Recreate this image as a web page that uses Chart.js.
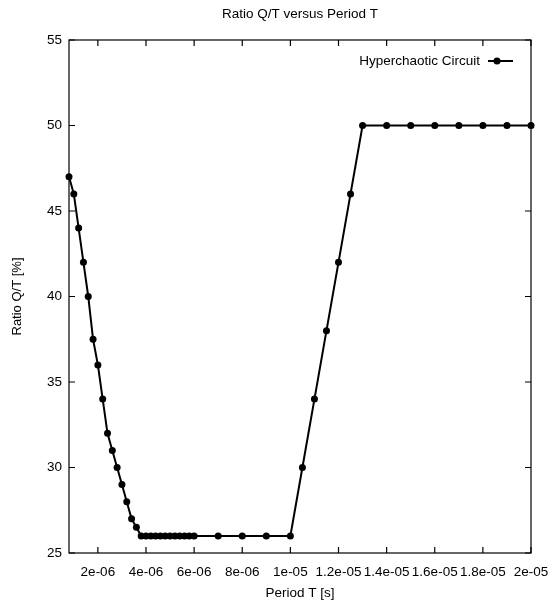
<!DOCTYPE html>
<html>
<head>
<meta charset="utf-8">
<script src="https://cdn.jsdelivr.net/npm/chart.js@4.4.1/dist/chart.umd.min.js"></script>
<style>
html,body{margin:0;padding:0;background:#fff;}
#wrap{width:548px;height:603px;position:relative;}
</style>
</head>
<body>
<div id="wrap"><canvas id="c" width="548" height="603"></canvas></div>
<script>
// Period T [s]
const periods = [
  8e-7, 1.0e-6, 1.2e-6, 1.4e-6, 1.6e-6, 1.8e-6, 2.0e-6, 2.2e-6, 2.4e-6, 2.6e-6,
  2.8e-6, 3.0e-6, 3.2e-6, 3.4e-6, 3.6e-6,
  3.8e-6, 4.0e-6, 4.2e-6, 4.4e-6, 4.6e-6, 4.8e-6, 5.0e-6, 5.2e-6, 5.4e-6, 5.6e-6, 5.8e-6, 6.0e-6,
  7e-6, 8e-6, 9e-6, 1.0e-5,
  1.05e-5, 1.1e-5, 1.15e-5, 1.2e-5, 1.25e-5,
  1.3e-5, 1.4e-5, 1.5e-5, 1.6e-5, 1.7e-5, 1.8e-5, 1.9e-5, 2.0e-5
];
// Ratio Q/T [%]
const ratios = [
  47, 46, 44, 42, 40, 37.5, 36, 34, 32, 31,
  30, 29, 28, 27, 26.5,
  26, 26, 26, 26, 26, 26, 26, 26, 26, 26, 26, 26,
  26, 26, 26, 26,
  30, 34, 38, 42, 46,
  50, 50, 50, 50, 50, 50, 50, 50
];
const seriesLabel = 'Hyperchaotic Circuit';
const chartTitle = 'Ratio Q/T versus Period T';
const xTickValues = [2e-6, 4e-6, 6e-6, 8e-6, 1e-5, 1.2e-5, 1.4e-5, 1.6e-5, 1.8e-5, 2e-5];
const xTickLabels = ['2e-06', '4e-06', '6e-06', '8e-06', '1e-05', '1.2e-05', '1.4e-05', '1.6e-05', '1.8e-05', '2e-05'];
const yTickValues = [25, 30, 35, 40, 45, 50, 55];
const yTickLabels = ['25', '30', '35', '40', '45', '50', '55'];

const FONT = "'Liberation Sans', Arial, Helvetica, sans-serif";
const FS = 13.5;

const boxPlugin = {
  id: 'boxPlugin',
  afterDatasetsDraw(chart) {
    const {ctx, chartArea: a, scales} = chart;
    ctx.save();
    // title centred over the plot area
    ctx.font = FS + 'px ' + FONT;
    ctx.fillStyle = '#000';
    ctx.textAlign = 'center';
    ctx.textBaseline = 'middle';
    ctx.fillText(chartTitle, (a.left + a.right) / 2, 14);

    ctx.strokeStyle = '#000';
    ctx.lineWidth = 1.2;
    ctx.strokeRect(a.left, a.top, a.right - a.left, a.bottom - a.top);
    const len = 6;
    ctx.beginPath();
    scales.x.ticks.forEach(t => {
      const px = scales.x.getPixelForValue(t.value);
      ctx.moveTo(px, a.bottom); ctx.lineTo(px, a.bottom - len);
      ctx.moveTo(px, a.top); ctx.lineTo(px, a.top + len);
    });
    scales.y.ticks.forEach(t => {
      const py = scales.y.getPixelForValue(t.value);
      ctx.moveTo(a.left, py); ctx.lineTo(a.left + len, py);
      ctx.moveTo(a.right, py); ctx.lineTo(a.right - len, py);
    });
    ctx.stroke();
    // key inside top-right
    const ds = chart.data.datasets[0];
    const ky = a.top + 21;
    const lineR = a.right - 18;
    const lineL = lineR - 25;
    ctx.textAlign = 'right';
    ctx.fillText(ds.label, lineL - 8, ky);
    ctx.lineWidth = 2;
    ctx.beginPath();
    ctx.moveTo(lineL, ky); ctx.lineTo(lineR, ky);
    ctx.stroke();
    ctx.beginPath();
    ctx.arc(lineL + 9, ky, 3.5, 0, Math.PI * 2);
    ctx.fill();
    ctx.restore();
  }
};

new Chart(document.getElementById('c'), {
  type: 'line',
  data: {
    datasets: [{
      label: seriesLabel,
      data: periods.map((p, i) => ({x: p, y: ratios[i]})),
      borderColor: '#000',
      backgroundColor: '#000',
      borderWidth: 2,
      pointRadius: 3.5,
      pointHoverRadius: 3.5,
      pointBackgroundColor: '#000',
      pointBorderWidth: 0,
      tension: 0,
      clip: false
    }]
  },
  options: {
    responsive: false,
    animation: false,
    devicePixelRatio: 1,
    layout: {padding: {left: 0, right: 17, top: 40, bottom: 0}},
    plugins: {
      legend: {display: false},
      tooltip: {enabled: false},
      title: {display: false}
    },
    scales: {
      x: {
        type: 'linear',
        min: periods[0],
        max: periods[periods.length - 1],
        afterBuildTicks: s => { s.ticks = xTickValues.map(v => ({value: v})); },
        afterFit: s => { s.height = 50; s.paddingLeft = 0; s.paddingRight = 0; },
        grid: {display: false, drawTicks: false},
        border: {display: false},
        ticks: {
          color: '#000',
          font: {family: FONT, size: FS},
          padding: 11,
          maxRotation: 0,
          autoSkip: false,
          callback: (v) => { const i = xTickValues.indexOf(v); return i >= 0 ? xTickLabels[i] : ''; }
        },
        title: {
          display: true,
          text: 'Period T [s]',
          color: '#000',
          font: {family: FONT, size: FS},
          padding: {top: 0, bottom: 2}
        }
      },
      y: {
        type: 'linear',
        min: 25,
        max: 55,
        afterBuildTicks: s => { s.ticks = yTickValues.map(v => ({value: v})); },
        afterFit: s => { s.width = 69; s.paddingTop = 0; s.paddingBottom = 0; },
        grid: {display: false, drawTicks: false},
        border: {display: false},
        ticks: {
          color: '#000',
          font: {family: FONT, size: FS},
          padding: 7,
          callback: (v) => { const i = yTickValues.indexOf(v); return i >= 0 ? yTickLabels[i] : ''; }
        },
        title: {
          display: true,
          text: 'Ratio Q/T [%]',
          color: '#000',
          font: {family: FONT, size: 13},
          padding: {top: 10, bottom: 0}
        }
      }
    }
  },
  plugins: [boxPlugin]
});
</script>
</body>
</html>
